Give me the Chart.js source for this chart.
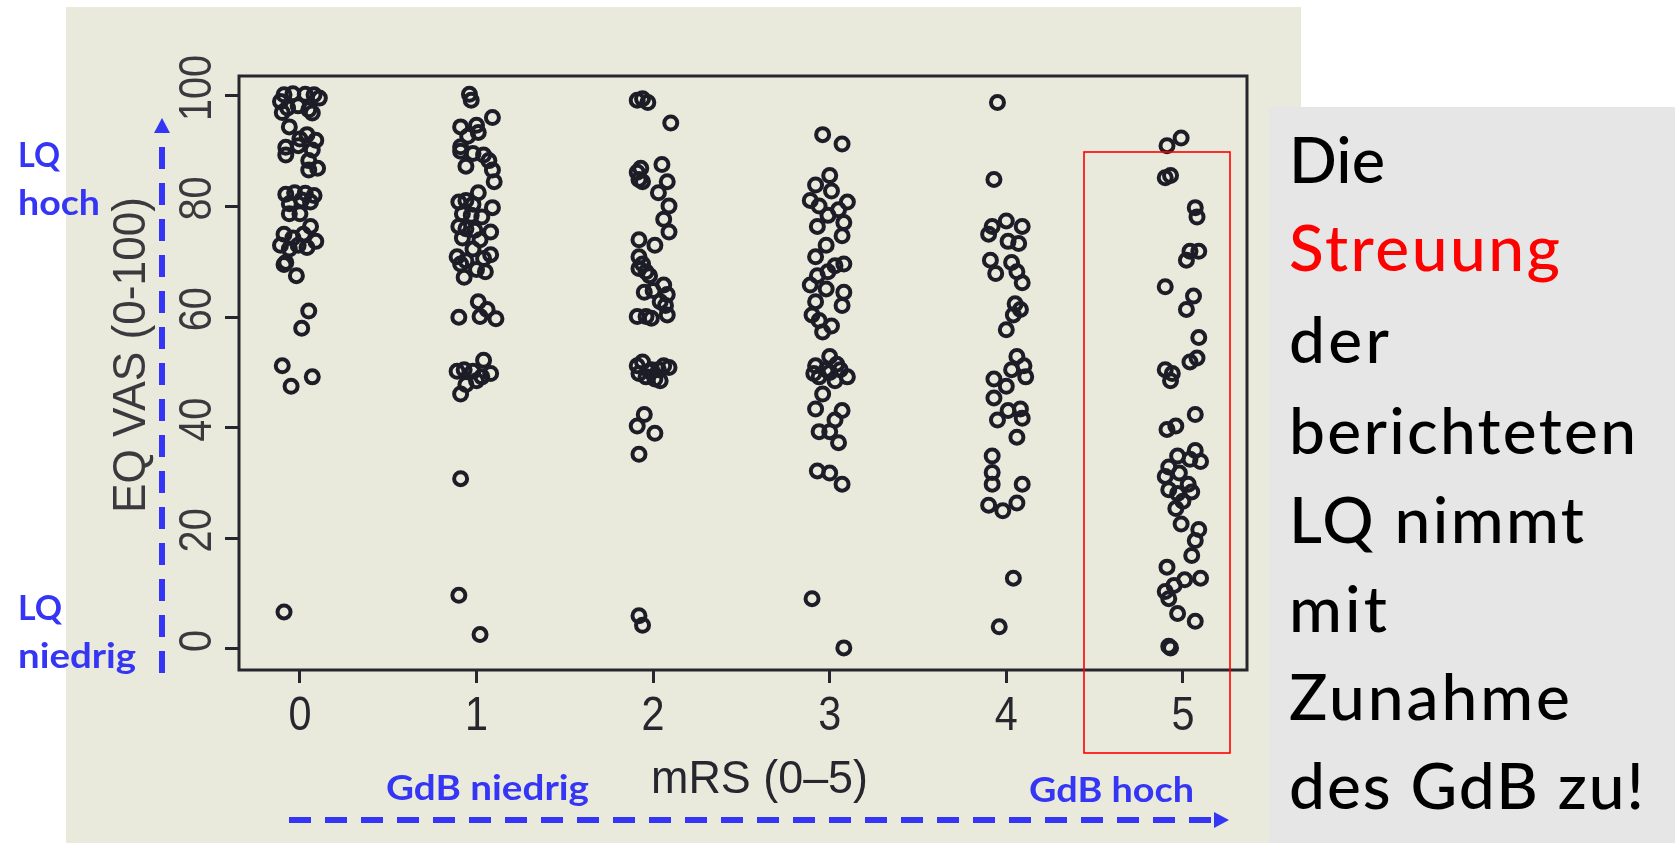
<!DOCTYPE html>
<html>
<head>
<meta charset="utf-8">
<script src="https://cdn.jsdelivr.net/npm/chart.js@4.4.0/dist/chart.umd.min.js"></script>
<style>
  html, body { margin: 0; padding: 0; background: #fff; overflow: hidden; }
  #wrap { position: relative; width: 1675px; height: 843px; }
</style>
</head>
<body>
<div id="wrap"><canvas id="graphic"></canvas></div>
<script>
// ==========================================================================
// DATA  (mRS groups, each point = [horizontal jitter, EQ VAS value])
// ==========================================================================
const mrsCats = [0, 1, 2, 3, 4, 5];
const xTickLabels = ['0', '1', '2', '3', '4', '5'];
const yTicks = [0, 20, 40, 60, 80, 100];

const mrs0 = [
  [-0.09,100.2],[-0.04,100.4],[0.03,100.3],[0.08,100.2],[0.11,99.6],[-0.11,99.0],[-0.07,97.8],[-0.01,98.2],[0.05,97.5],[0.07,96.9],[-0.10,97.0],
  [-0.06,94.4],[0.04,93.0],[0.09,92.0],[0.00,92.2],[-0.08,90.7],[-0.08,89.3],[0.07,90.2],[-0.01,91.0],[0.05,88.3],[0.10,86.9],[0.05,86.6],
  [-0.08,82.2],[-0.03,82.5],[0.03,82.4],[0.08,82.0],[-0.06,80.5],[0.01,81.2],[0.06,80.8],
  [-0.06,78.7],[0.00,78.7],[0.06,76.4],[-0.09,75.0],[-0.04,74.3],[0.02,75.0],[0.09,73.7],[-0.11,73.0],[-0.06,72.3],[-0.01,73.0],[0.04,72.6],[-0.08,69.9],[-0.02,67.5],[-0.09,69.5],
  [0.05,61.1],[0.01,58.0],[-0.10,51.2],[-0.05,47.5],[0.07,49.2],[-0.09,6.7]
];
const mrs1 = [
  [-0.04,100.3],[-0.03,99.2],[0.09,96.1],[-0.09,94.4],[0.00,94.7],[-0.05,92.7],[0.01,93.4],[-0.09,90.0],[-0.02,89.6],[0.04,89.3],[0.07,88.3],[-0.06,87.3],[0.09,86.6],[0.10,84.5],[-0.09,90.8],
  [0.01,82.5],[-0.10,80.8],[-0.06,81.1],[-0.02,80.4],[0.09,79.8],[-0.08,78.7],[-0.03,78.4],[0.03,78.1],[-0.10,76.4],[-0.06,76.0],[-0.01,75.7],[0.08,75.4],[-0.08,74.3],[0.02,74.0],
  [-0.02,72.3],[-0.11,70.9],[0.08,71.3],[0.04,70.6],[-0.06,70.2],[-0.09,69.6],[0.00,68.6],[0.05,68.2],[-0.07,67.2],
  [0.01,62.8],[0.06,61.4],[0.11,59.7],[-0.10,60.0],[0.02,60.1],
  [0.04,52.2],[-0.11,50.2],[-0.07,50.5],[-0.02,50.2],[0.03,49.2],[0.08,49.8],[-0.06,47.8],[-0.09,46.1],[0.00,48.5],
  [-0.09,30.8],[-0.10,9.7],[0.02,2.6]
];
const mrs2 = [
  [-0.06,99.5],[-0.03,98.8],[-0.09,99.2],[0.10,95.1],
  [-0.09,86.2],[-0.07,86.9],[-0.08,84.9],[-0.06,84.5],
  [0.05,87.6],[0.08,84.5],[0.03,82.5],[0.09,80.1],[0.06,77.7],[0.09,75.4],
  [-0.08,74.0],[0.01,73.0],[-0.08,70.9],[-0.06,69.6],[-0.08,68.8],[-0.04,68.2],[-0.02,67.5],
  [-0.05,64.5],[0.00,64.8],[0.06,65.8],[0.08,64.1],[0.04,62.8],[0.07,62.1],[-0.09,60.1],[-0.04,60.1],[-0.01,59.8],[0.08,60.4],
  [-0.09,51.2],[-0.06,51.9],[-0.01,50.5],[0.06,51.2],[0.09,50.9],[-0.04,49.2],[0.01,48.8],[-0.08,49.8],[0.04,48.5],[-0.02,50.2],[0.03,50.5],
  [-0.05,42.4],[-0.09,40.3],[0.01,39.0],[-0.08,35.2],
  [-0.08,6.0],[-0.06,4.3]
];
const mrs3 = [
  [-0.04,93.0],[0.07,91.3],
  [0.00,85.6],[-0.08,83.9],[0.01,82.8],[-0.11,81.1],[-0.06,80.1],[0.10,80.8],[0.05,79.4],[-0.01,78.4],[0.08,77.1],[-0.07,76.4],[0.07,74.7],[-0.02,73.0],
  [-0.08,70.9],[0.08,69.6],[0.03,69.3],[-0.07,67.5],[-0.01,68.2],[-0.11,65.8],[-0.02,65.1],[0.08,64.5],[-0.08,62.8],[0.07,62.1],[-0.10,60.4],[-0.06,59.4],[0.01,58.4],[-0.04,57.3],
  [0.00,52.9],[-0.08,51.2],[-0.02,50.5],[0.06,50.5],[0.10,49.2],[-0.06,49.2],[0.03,48.5],[-0.09,49.8],[0.00,50.0],[0.04,51.5],
  [-0.04,46.1],[-0.08,43.4],[0.07,43.1],[0.03,41.4],[-0.06,39.3],[0.00,39.3],[0.05,37.3],
  [-0.07,32.2],[0.00,31.8],[0.07,29.8],
  [-0.10,9.1],[0.08,0.2]
];
const mrs4 = [
  [-0.05,98.8],[-0.07,84.9],
  [-0.08,76.4],[0.00,77.4],[0.09,76.4],[-0.10,75.0],[0.01,73.7],[0.07,73.3],[-0.09,70.3],[0.03,69.9],[-0.06,67.9],[0.06,68.2],[0.09,66.2],
  [0.05,62.4],[0.08,61.4],[0.04,60.4],[0.00,57.7],
  [0.06,52.9],[0.10,51.2],[0.03,50.5],[-0.07,48.8],[0.11,49.2],[0.00,47.5],[-0.07,45.4],[0.01,43.1],[0.08,43.4],[-0.05,41.4],[0.09,41.7],[0.06,38.3],
  [-0.08,34.9],[-0.08,31.9],[-0.08,29.8],[0.09,29.8],[-0.10,26.0],[-0.02,25.0],[0.06,26.4],
  [0.04,12.8],[-0.04,4.0]
];
const mrs5 = [
  [-0.09,91.0],[-0.01,92.4],[-0.10,85.2],[-0.07,85.6],[0.07,79.8],[0.08,78.1],[0.04,71.9],[0.09,71.9],[0.02,70.3],[-0.10,65.5],[0.06,63.8],[0.02,61.4],[0.09,56.3],
  [-0.10,50.5],[-0.06,49.8],[0.04,51.9],[0.08,52.6],[-0.07,48.5],[0.07,42.4],[-0.09,39.7],[-0.04,40.3],
  [0.07,35.9],[-0.03,34.9],[-0.08,32.9],[0.04,34.3],[0.10,33.9],[-0.02,31.8],[-0.10,31.2],[0.03,29.8],[-0.08,28.8],[-0.03,28.1],[0.05,28.4],[0.00,26.7],[-0.04,25.4],[-0.01,22.6],
  [0.09,21.6],[0.07,19.6],[0.05,16.9],[-0.09,14.8],[0.10,12.8],[0.01,12.5],[-0.05,11.5],[-0.10,10.4],[-0.08,9.1],[-0.03,6.4],[0.07,5.0],[-0.07,0.2],[-0.08,0.5]
];
const groups = [mrs0, mrs1, mrs2, mrs3, mrs4, mrs5];

const xTitle = 'mRS (0\u20135)';
const yTitle = 'EQ VAS (0-100)';
const sideLines = ['Die', 'Streuung', 'der', 'berichteten', 'LQ nimmt', 'mit', 'Zunahme', 'des GdB zu!'];

// ==========================================================================
// DRAW HELPERS
// ==========================================================================
const AXIS_FONT = '"Liberation Sans Narrow", "Liberation Sans", Arial, sans-serif';
const INK = '#26262e';
const BLUE = '#3535f5';

function drawText(ctx, str, x, y, o) {
  ctx.save();
  ctx.font = o.font;
  ctx.fillStyle = o.color;
  ctx.textBaseline = 'alphabetic';
  ctx.textAlign = o.align || 'left';
  ctx.translate(x, y);
  if (o.rotate) ctx.rotate(o.rotate);
  let sx = o.sx || 1;
  if (o.width) sx = o.width / ctx.measureText(str).width;
  ctx.scale(sx, 1);
  ctx.fillText(str, 0, 0);
  ctx.restore();
}

function drawSpaced(ctx, str, x, y, font, color, w) {
  ctx.save();
  ctx.font = font;
  ctx.fillStyle = color;
  ctx.textAlign = 'left';
  ctx.textBaseline = 'alphabetic';
  const nat = ctx.measureText(str).width;
  const ls = (w - nat) / Math.max(1, str.length - 1);
  if (ls >= 0 && 'letterSpacing' in ctx) {
    ctx.letterSpacing = ls.toFixed(2) + 'px';
    ctx.fillText(str, x, y);
  } else {
    ctx.translate(x, y);
    ctx.scale(w / nat, 1);
    ctx.fillText(str, 0, 0);
  }
  ctx.restore();
}

function dashedArrow(ctx, x1, y1, x2, y2, tip) {
  ctx.save();
  ctx.strokeStyle = BLUE;
  ctx.fillStyle = BLUE;
  ctx.lineWidth = 6;
  ctx.setLineDash([22, 14]);
  ctx.beginPath();
  ctx.moveTo(x1, y1);
  ctx.lineTo(x2, y2);
  ctx.stroke();
  const a = Math.atan2(y2 - y1, x2 - x1);
  ctx.translate(x2, y2);
  ctx.rotate(a);
  ctx.beginPath();
  ctx.moveTo(tip, 0);
  ctx.lineTo(0, -8);
  ctx.lineTo(0, 8);
  ctx.closePath();
  ctx.fill();
  ctx.restore();
}

// ==========================================================================
// PLUGINS
// ==========================================================================
const backdrop = {
  id: 'backdrop',
  beforeDraw(chart) {
    const ctx = chart.ctx;
    ctx.save();
    ctx.fillStyle = '#ffffff';
    ctx.fillRect(0, 0, chart.width, chart.height);
    ctx.fillStyle = '#e9eadb';
    ctx.fillRect(66, 7, 1301 - 66, chart.height - 7);
    ctx.fillStyle = '#e6e6e6';
    ctx.fillRect(1269, 107, chart.width - 1269, chart.height - 107);
    ctx.restore();
  }
};

const frame = {
  id: 'frame',
  afterDraw(chart) {
    const ctx = chart.ctx;
    const a = chart.chartArea;
    const xs = chart.scales.x;
    const ys = chart.scales.y;

    // plot box
    ctx.save();
    ctx.strokeStyle = INK;
    ctx.lineWidth = 3;
    ctx.strokeRect(a.left, a.top, a.right - a.left, a.bottom - a.top);
    ctx.restore();

    // x tick labels
    ctx.save();
    ctx.font = '48px ' + AXIS_FONT;
    const sx = 23 / ctx.measureText('0').width;
    ctx.restore();
    mrsCats.forEach((c, i) => {
      drawText(ctx, xTickLabels[i], xs.getPixelForValue(c), 730,
        { font: '48px ' + AXIS_FONT, color: INK, align: 'center', sx: sx });
    });
    // y tick labels (rotated, as in the printed figure)
    yTicks.forEach(v => {
      drawText(ctx, String(v), 211, ys.getPixelForValue(v) - 8,
        { font: '46px ' + AXIS_FONT, color: '#3a3a3e', align: 'center', sx: sx, rotate: -Math.PI / 2 });
    });

    // axis titles
    drawText(ctx, xTitle, 651, 793, { font: '46px ' + AXIS_FONT, color: INK, width: 217 });
    drawText(ctx, yTitle, 145, 355, { font: '46px ' + AXIS_FONT, color: '#3a3a3e', align: 'center', width: 316, rotate: -Math.PI / 2 });

    // red highlight around mRS 5
    ctx.save();
    ctx.strokeStyle = '#ff0000';
    ctx.lineWidth = 1.6;
    ctx.strokeRect(1084, 152, 1230 - 1084, 753 - 152);
    ctx.restore();

    // blue annotations
    const bf = 'bold 34px Lato, "Open Sans", sans-serif';
    drawText(ctx, 'LQ', 18, 167, { font: bf, color: BLUE, width: 42 });
    drawText(ctx, 'hoch', 18, 215, { font: bf, color: BLUE, width: 82 });
    drawText(ctx, 'LQ', 18, 620, { font: bf, color: BLUE, width: 44 });
    drawText(ctx, 'niedrig', 18, 668, { font: bf, color: BLUE, width: 118 });
    drawText(ctx, 'GdB niedrig', 386, 800, { font: bf, color: BLUE, width: 203 });
    drawText(ctx, 'GdB hoch', 1029, 802, { font: bf, color: BLUE, width: 165 });
    dashedArrow(ctx, 162, 673, 162, 133, 15);
    dashedArrow(ctx, 289, 820, 1214, 820, 15);

    // side panel text
    const sf = '500 64px Lato, "Open Sans", sans-serif';
    const base = [183, 271, 363, 454, 543, 632, 720, 809];
    const widths = [96, 271, 100, 347, 295, 98, 281, 355];
    sideLines.forEach((t, i) => {
      drawSpaced(ctx, t, 1289, base[i], sf, i === 1 ? '#ff0000' : '#000000', widths[i]);
    });
  }
};

// ==========================================================================
// GRAPHIC
// ==========================================================================
const ctx = document.getElementById('graphic').getContext('2d');
const myChart = new Chart(ctx, {
  type: 'scatter',
  data: {
    datasets: groups.map((pts, i) => ({
      label: 'mRS ' + mrsCats[i],
      data: pts.map(p => ({ x: mrsCats[i] + p[0], y: p[1] })),
      pointStyle: 'circle',
      pointRadius: 6.5,
      pointBorderWidth: 4,
      borderColor: '#1d1d28',
      backgroundColor: 'rgba(0,0,0,0)'
    }))
  },
  options: {
    responsive: true,
    maintainAspectRatio: false,
    animation: false,
    events: [],
    layout: { padding: { left: 0, right: 428, top: 76, bottom: 0 } },
    plugins: {
      legend: { display: false },
      tooltip: { enabled: false }
    },
    scales: {
      x: {
        type: 'linear',
        min: -0.345,
        max: 5.363,
        afterBuildTicks: s => { s.ticks = mrsCats.map(v => ({ value: v })); },
        afterFit: s => { s.height = 173; },
        ticks: { display: false },
        border: { display: false },
        grid: { drawOnChartArea: false, drawTicks: true, tickLength: 13, tickWidth: 3, tickColor: INK }
      },
      y: {
        type: 'linear',
        min: -3.8,
        max: 103.6,
        afterBuildTicks: s => { s.ticks = yTicks.map(v => ({ value: v })); },
        afterFit: s => { s.width = 239; },
        ticks: { display: false },
        border: { display: false },
        grid: { drawOnChartArea: false, drawTicks: true, tickLength: 14, tickWidth: 3, tickColor: INK }
      }
    }
  },
  plugins: [backdrop, frame]
});
</script>
</body>
</html>
